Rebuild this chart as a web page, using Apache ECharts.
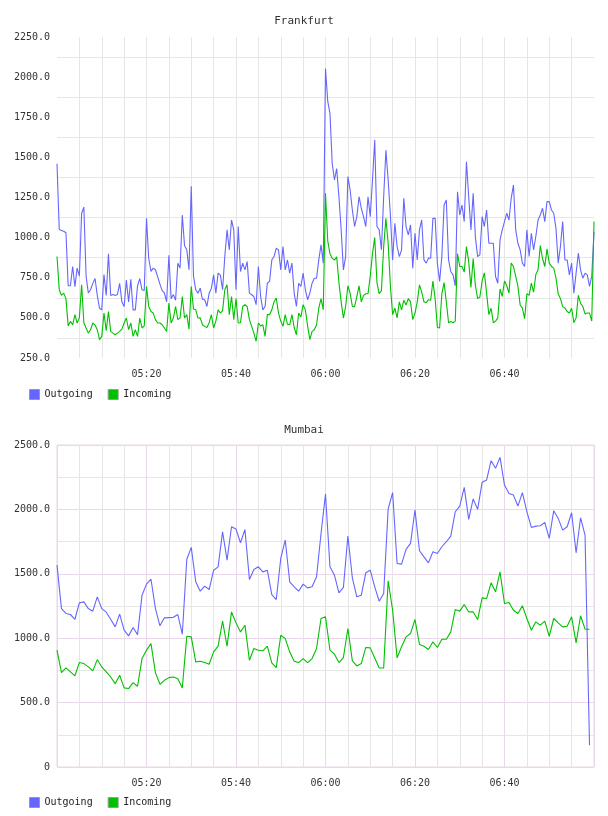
<!DOCTYPE html>
<html>
<head>
<meta charset="utf-8">
<script src="https://cdn.jsdelivr.net/npm/echarts@6/dist/echarts.min.js"></script>
<style>
  body { margin: 0; background: #fff; }
  #chart { width: 608px; height: 816px; }
</style>
</head>
<body>
<div id="chart"></div>
<script>
// Frankfurt: one sample every 30 s from 05:00 to 07:00
const frankfurtStep = 0.5;
const frankfurtOut = [
  1460, 1050, 1045, 1040, 1030, 700, 700, 820, 695, 810,
  760, 1150, 1190, 760, 655, 675, 715, 745, 640, 560,
  550, 770, 640, 900, 640, 645, 640, 645, 715, 600,
  570, 735, 600, 740, 550, 550, 700, 745, 675, 670,
  1120, 870, 790, 810, 800, 755, 710, 670, 655, 600,
  890, 620, 645, 610, 840, 810, 1140, 950, 925, 800,
  1320, 760, 675, 654, 685, 617, 613, 571, 654, 685,
  768, 654, 779, 768, 675, 882, 1048, 924, 1110, 1048,
  675, 1069, 789, 841, 799, 851, 654, 644, 633, 582,
  820, 633, 550, 571, 716, 727, 861, 882, 934, 924,
  799, 944, 799, 861, 779, 841, 654, 571, 716, 696,
  779, 675, 613, 654, 716, 747, 747, 861, 955, 841,
  2053, 1850, 1773, 1462, 1359, 1430, 1255, 1048, 799, 882,
  1380, 1297, 1172, 1069, 1131, 1255, 1183, 1131, 1069, 1255,
  1131, 1359, 1608, 1069, 1048, 924, 1255, 1545, 1359, 1141,
  861, 1090, 944, 882, 924, 1245, 1069, 1017, 1079, 810,
  1027, 861, 1048, 1110, 861, 841, 872, 872, 1120, 1120,
  841, 727, 882, 1203, 1234, 861, 789, 768, 700, 1286,
  1141, 1203, 1100, 1473, 1255, 1048, 1276, 1000, 882, 893,
  1131, 1069, 1172, 965, 965, 965, 758, 716, 986, 1048,
  1100, 1152, 1110, 1245, 1328, 1048, 965, 924, 841, 820,
  1048, 882, 1027, 924, 1007, 1110, 1141, 1183, 1100, 1224,
  1224, 1172, 1152, 1058, 841, 944, 1100, 861, 861, 768,
  841, 654, 779, 903, 799, 747, 779, 768, 696, 760,
  1036
];
const frankfurtIn = [
  882, 675, 640, 654, 620, 450, 478, 457, 520, 468,
  500, 706, 470, 437, 405, 426, 468, 455, 426, 364,
  385, 530, 420, 540, 416, 405, 395, 405, 416, 430,
  468, 499, 426, 468, 385, 426, 385, 499, 437, 450,
  696, 571, 540, 530, 489, 468, 468, 457, 437, 416,
  592, 468, 499, 571, 489, 499, 633, 499, 520, 430,
  696, 555, 550, 499, 500, 457, 447, 440, 470, 520,
  437, 480, 550, 530, 545, 675, 706, 520, 633, 489,
  620, 468, 470, 571, 582, 570, 489, 447, 405, 354,
  468, 450, 457, 385, 520, 520, 550, 600, 623, 530,
  480, 447, 520, 460, 457, 520, 440, 395, 530, 505,
  582, 550, 450, 364, 416, 426, 457, 560, 620, 550,
  1276, 980, 900, 872, 860, 880, 720, 600, 499, 570,
  700, 654, 571, 570, 633, 700, 600, 640, 650, 650,
  760, 900, 1000, 720, 650, 670, 944, 1120, 965, 700,
  520, 560, 500, 600, 550, 610, 580, 620, 600, 489,
  530, 600, 706, 660, 600, 595, 613, 610, 730, 620,
  440, 437, 650, 720, 600, 470, 478, 470, 480, 900,
  820, 820, 785, 944, 850, 690, 870, 700, 620, 630,
  730, 780, 654, 520, 560, 470, 480, 500, 680, 633,
  730, 700, 654, 841, 820, 760, 696, 580, 561, 495,
  650, 640, 716, 660, 770, 800, 950, 870, 820, 930,
  841, 820, 810, 750, 650, 620, 570, 561, 540, 530,
  560, 470, 500, 640, 590, 571, 525, 530, 530, 480,
  1100
];

// Mumbai: one sample per minute
const mumbaiStep = 1;
const mumbaiOut = [
  1567, 1230, 1192, 1184, 1147, 1274, 1282, 1230, 1210, 1321,
  1230, 1202, 1147, 1088, 1187, 1062, 1018, 1083, 1028, 1334,
  1420, 1458, 1230, 1096, 1158, 1160, 1162, 1184, 1031, 1611,
  1705, 1438, 1365, 1404, 1378, 1528, 1554, 1826, 1606, 1865,
  1847, 1741, 1844, 1456, 1534, 1554, 1515, 1528, 1339, 1300,
  1619, 1762, 1438, 1399, 1365, 1420, 1391, 1399, 1477, 1813,
  2119, 1554, 1489, 1352, 1394, 1793, 1469, 1321, 1334, 1508,
  1528, 1399, 1287, 1347, 2003, 2130, 1580, 1575, 1690, 1736,
  1995, 1679, 1632, 1585, 1671, 1658, 1710, 1749, 1793, 1982,
  2026, 2171, 1922, 2081, 2000, 2210, 2228, 2378, 2319, 2404,
  2189, 2124, 2111, 2026, 2130, 1982, 1860, 1870, 1873, 1899,
  1775, 1990, 1930, 1839, 1865, 1974, 1663, 1935, 1800, 168
];
const mumbaiIn = [
  907, 733, 769, 738, 707, 811, 803, 777, 746, 834,
  777, 738, 699, 647, 712, 614, 609, 655, 627, 842,
  907, 958, 733, 642, 673, 694, 699, 686, 614, 1015,
  1010, 816, 821, 811, 798, 894, 938, 1132, 938, 1204,
  1119, 1049, 1101, 829, 920, 907, 902, 938, 808, 772,
  1023, 997, 894, 821, 811, 842, 811, 842, 920, 1153,
  1166, 907, 876, 811, 850, 1075, 824, 785, 803, 928,
  925, 847, 769, 769, 1445, 1217, 847, 933, 1010, 1036,
  1145, 951, 938, 912, 972, 928, 992, 992, 1049, 1223,
  1210, 1262, 1204, 1204, 1145, 1313, 1308, 1430, 1360, 1515,
  1269, 1277, 1217, 1192, 1251, 1153, 1062, 1127, 1101, 1132,
  1015, 1153, 1119, 1088, 1093, 1166, 964, 1174, 1070, 1070
];

// Frankfurt draws its horizontal grid half a step off the labels
const frankfurtGridLines = [375, 625, 875, 1125, 1375, 1625, 1875, 2125];

const chartDom = document.getElementById("chart");
const myChart = echarts.init(chartDom, null, { renderer: "canvas" });

const monoFont = "DejaVu Sans Mono";
const outColor = "#6666ff";
const inColor = "#00c000";
const gray = "#e6e6e6";
const pink = "#ead7ea";

function pad(n) {
  return n < 10 ? "0" + n : "" + n;
}

function timeLabel(v) {
  if (v % 20 !== 0 || v <= 0 || v >= 120) return "";
  return pad(5 + Math.floor(v / 60)) + ":" + pad(v % 60);
}

function toPairs(values, step) {
  return values.map((v, i) => [i * step, v]);
}

const xBase = {
  type: "value",
  min: 0,
  max: 120,
  interval: 5,
  axisLine: { show: false },
  axisTick: { show: false },
  axisLabel: {
    formatter: timeLabel,
    fontFamily: monoFont,
    fontSize: 10,
    color: "#333",
    margin: 11,
    showMinLabel: false,
    showMaxLabel: false,
  },
};

const legendBase = {
  left: 24,
  icon: "rect",
  itemWidth: 10,
  itemHeight: 10,
  itemGap: 15,
  itemStyle: { borderColor: "#999", borderWidth: 1 },
  textStyle: { fontFamily: monoFont, fontSize: 10, color: "#222" },
  data: ["Outgoing", "Incoming"],
};

const titleStyle = { fontFamily: monoFont, fontSize: 11, fontWeight: "normal", color: "#333" };

const option = {
  animation: false,
  title: [
    { text: "Frankfurt", left: "center", top: 11, textStyle: titleStyle },
    { text: "Mumbai", left: "center", top: 420, textStyle: titleStyle },
  ],
  legend: [
    Object.assign({}, legendBase, { top: 384 }),
    Object.assign({}, legendBase, { top: 792 }),
  ],
  grid: [
    { left: 57, top: 37, width: 537, height: 321 },
    { left: 57, top: 445, width: 537, height: 322, show: true, borderColor: pink, borderWidth: 1 },
  ],
  xAxis: [
    Object.assign({}, xBase, {
      gridIndex: 0,
      splitLine: { show: true, showMinLine: false, showMaxLine: false, lineStyle: { color: gray, width: 1 } },
    }),
    Object.assign({}, xBase, {
      gridIndex: 1,
      splitLine: { show: true, lineStyle: { color: [pink, gray, gray, gray], width: 1 } },
    }),
  ],
  yAxis: [
    {
      type: "value",
      gridIndex: 0,
      min: 250,
      max: 2250,
      interval: 250,
      axisLine: { show: false },
      axisTick: { show: false },
      splitLine: { show: false },
      axisLabel: {
        formatter: (v) => v.toFixed(1),
        fontFamily: monoFont,
        fontSize: 10,
        color: "#333",
        margin: 7,
      },
    },
    {
      type: "value",
      gridIndex: 1,
      min: 0,
      max: 2500,
      interval: 250,
      axisLine: { show: false },
      axisTick: { show: false },
      splitLine: { show: true, lineStyle: { color: [pink, gray], width: 1 } },
      axisLabel: {
        formatter: (v) => (v % 500 !== 0 ? "" : v === 0 ? "0" : v.toFixed(1)),
        fontFamily: monoFont,
        fontSize: 10,
        color: "#333",
        margin: 7,
      },
    },
  ],
  series: [
    {
      name: "Outgoing",
      type: "line",
      xAxisIndex: 0,
      yAxisIndex: 0,
      data: toPairs(frankfurtOut, frankfurtStep),
      showSymbol: false,
      lineStyle: { color: outColor, width: 1.1 },
      itemStyle: { color: outColor },
      markLine: {
        silent: true,
        symbol: "none",
        z: 1,
        label: { show: false },
        lineStyle: { color: gray, width: 1, type: "solid" },
        data: frankfurtGridLines.map((v) => ({ yAxis: v })),
      },
    },
    {
      name: "Incoming",
      type: "line",
      xAxisIndex: 0,
      yAxisIndex: 0,
      data: toPairs(frankfurtIn, frankfurtStep),
      showSymbol: false,
      lineStyle: { color: inColor, width: 1.1 },
      itemStyle: { color: inColor },
    },
    {
      name: "Outgoing",
      type: "line",
      xAxisIndex: 1,
      yAxisIndex: 1,
      data: toPairs(mumbaiOut, mumbaiStep),
      showSymbol: false,
      lineStyle: { color: outColor, width: 1.1 },
      itemStyle: { color: outColor },
    },
    {
      name: "Incoming",
      type: "line",
      xAxisIndex: 1,
      yAxisIndex: 1,
      data: toPairs(mumbaiIn, mumbaiStep),
      showSymbol: false,
      lineStyle: { color: inColor, width: 1.1 },
      itemStyle: { color: inColor },
    },
  ],
};

myChart.setOption(option);

window.onresize = function () {
  myChart.resize();
};
</script>
</body>
</html>
